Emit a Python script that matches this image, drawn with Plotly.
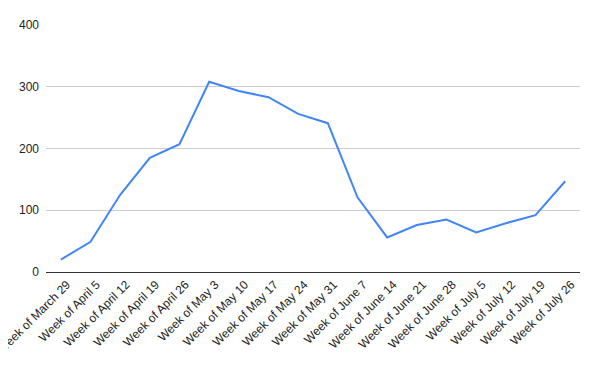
import plotly.graph_objects as go

weeks = ["Week of March 29", "Week of April 5", "Week of April 12", "Week of April 19",
         "Week of April 26", "Week of May 3", "Week of May 10", "Week of May 17",
         "Week of May 24", "Week of May 31", "Week of June 7", "Week of June 14",
         "Week of June 21", "Week of June 28", "Week of July 5", "Week of July 12",
         "Week of July 19", "Week of July 26"]
values = [20, 49, 125, 185, 207, 308, 293, 283, 256, 241, 121, 56, 76, 85, 64, 79, 92, 147]
y_ticks = [0, 100, 200, 300, 400]

fig = go.Figure()
fig.add_trace(go.Scatter(x=weeks, y=values, mode="lines",
                         line=dict(color="#4285F4", width=2), hoverinfo="x+y"))

fig.update_layout(
    width=600, height=371,
    margin=dict(l=38, r=28, t=17, b=107, autoexpand=False),
    paper_bgcolor="white", plot_bgcolor="white",
    showlegend=False,
    font=dict(family="Liberation Sans, Arial, sans-serif", color="#222222"),
)
fig.update_xaxes(type="category", range=[-0.5, 17.5], tickangle=-45, automargin=False,
                 tickfont=dict(size=12, color="#222222"), showgrid=False,
                 showline=True, linecolor="#333333", linewidth=1, ticks="",
                 ticklabelshift=6)
fig.update_yaxes(range=[0, 400], tickvals=y_ticks, tickfont=dict(size=12, color="#222222"),
                 showgrid=True, gridcolor="#cccccc", gridwidth=1, zeroline=False,
                 automargin=False, ticks="", ticklabelstandoff=6)

fig.write_html("out.html")
